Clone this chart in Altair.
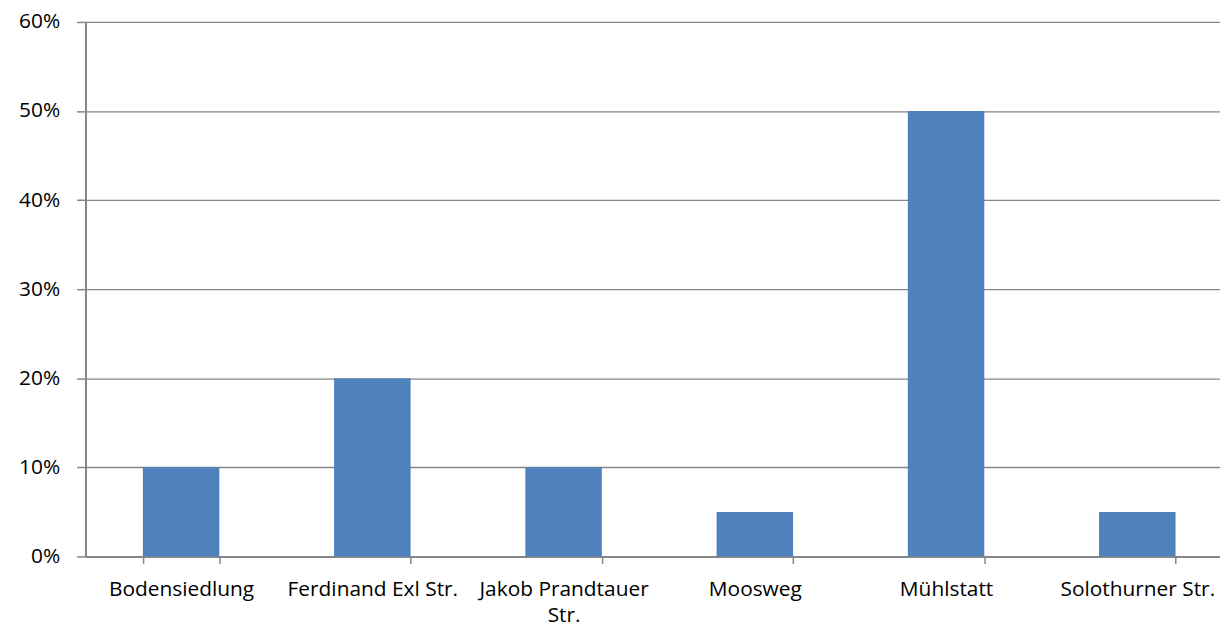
import altair as alt
import pandas as pd

categories = ["Bodensiedlung", "Ferdinand Exl Str.", "Jakob Prandtauer Str.", "Moosweg", "Mühlstatt", "Solothurner Str."]
values = [0.10, 0.20, 0.10, 0.05, 0.50, 0.05]
y_ticks = [0, 0.1, 0.2, 0.3, 0.4, 0.5, 0.6]

df = pd.DataFrame({"cat": categories, "val": values})

gray = "#868686"
font = "Open Sans"

chart = alt.Chart(df).mark_bar(color="#4F81BD").encode(
    x=alt.X("cat:N", sort=categories, title=None,
            scale=alt.Scale(paddingInner=0.6, paddingOuter=0.3, range=[0, 1155]),
            axis=alt.Axis(labelAngle=0, labelFontSize=21, labelFont=font, labelColor="#000000",
                          domainColor=gray, tickColor=gray, tickSize=7, tickBand="extent",
                          labelPadding=15, labelLimit=260, labelBaseline="top",
                          labelExpr="datum.label == 'Jakob Prandtauer Str.' ? ['Jakob Prandtauer', 'Str.'] : datum.label",
                          labelLineHeight=27)),
    y=alt.Y("val:Q", title=None,
            scale=alt.Scale(domain=[0, 0.6], nice=False),
            axis=alt.Axis(format=".0%", values=y_ticks,
                          labelFontSize=21, labelFont=font, labelColor="#000000",
                          domainColor=gray, tickColor=gray, tickSize=9, labelPadding=17,
                          gridColor=gray, gridWidth=1.3)),
).properties(
    width=1142, height=538,
    autosize=alt.AutoSizeParams(type="none"),
    padding={"left": 78, "top": 12, "right": 0, "bottom": 70},
).configure_view(stroke=None).configure_axis(domainWidth=2, tickWidth=1.5)

chart.save("out.html", embed_options={"renderer": "svg", "actions": False})
